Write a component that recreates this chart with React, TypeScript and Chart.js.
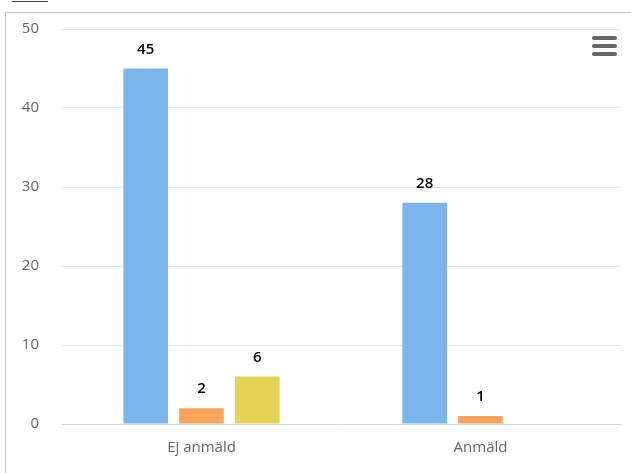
import React, { useEffect, useRef } from "react";
import { Chart, registerables } from "chart.js";

Chart.register(...registerables);

const categories = ["Ej anmäld", "Anmäld"];
const seriesA = [45, 28];
const seriesB = [2, 1];
const seriesC: (number | null)[] = [6, null];
const yTicks = [0, 10, 20, 30, 40, 50];

const FONT = "'Open Sans', 'Noto Sans', sans-serif";

const valueLabels = {
  id: "valueLabels",
  afterDatasetsDraw(chart: any) {
    const ctx = chart.ctx;
    ctx.save();
    ctx.font = `600 15px ${FONT}`;
    ctx.fillStyle = "#000000";
    ctx.textAlign = "center";
    ctx.textBaseline = "middle";
    chart.data.datasets.forEach((ds: any, i: number) => {
      const meta = chart.getDatasetMeta(i);
      meta.data.forEach((bar: any, j: number) => {
        const v = ds.data[j];
        if (v === null || v === undefined) return;
        ctx.fillText(String(v), bar.x, bar.y - 19);
      });
    });
    ctx.restore();
  },
};

export default function App() {
  const ref = useRef<HTMLCanvasElement | null>(null);
  useEffect(() => {
    if (!ref.current) return;
    const chart = new Chart(ref.current, {
      type: "bar",
      data: {
        labels: categories,
        datasets: [
          { data: seriesA, backgroundColor: "#7cb5ec" },
          { data: seriesB, backgroundColor: "#f7a35c" },
          { data: seriesC, backgroundColor: "#e4d354" },
        ],
      },
      options: {
        responsive: false,
        animation: false,
        layout: { padding: { left: 0, right: 11, top: 29, bottom: 0 } },
        plugins: { legend: { display: false }, tooltip: { enabled: false } },
        datasets: { bar: { categoryPercentage: 0.6, barPercentage: 0.8 } },
        scales: {
          x: {
            grid: { display: false },
            border: { display: true, color: "#ccd6eb", width: 1 },
            ticks: { color: "#666666", font: { family: FONT, size: 15 }, padding: 7 },
            afterFit: (s: any) => {
              s.height = 49;
            },
          },
          y: {
            min: 0,
            max: 50,
            afterBuildTicks: (s: any) => {
              s.ticks = yTicks.map((v) => ({ value: v }));
            },
            grid: {
              color: (c: any) => (c.tick && c.tick.value === 0 ? "rgba(0,0,0,0)" : "#e6e6e6"),
              drawTicks: false,
            },
            border: { display: false },
            ticks: { color: "#666666", font: { family: FONT, size: 15 }, padding: 23 },
            afterFit: (s: any) => {
              s.width = 62;
              s.paddingTop = 0;
              s.paddingBottom = 0;
            },
          },
        },
      },
      plugins: [valueLabels],
    });
    return () => chart.destroy();
  }, []);

  return (
    <div style={{ position: "absolute", left: 0, top: 0, width: 631, height: 473, background: "#fff", overflow: "hidden" }}>
      <div style={{ position: "absolute", left: 12, top: 1, width: 36, height: 1, background: "#444" }} />
      <div style={{ position: "absolute", left: 5, top: 12, right: 0, bottom: 0, borderLeft: "1px solid #c8c8c8", borderTop: "1px solid #c8c8c8" }} />
      <canvas ref={ref} width={631} height={473} style={{ position: "absolute", left: 0, top: 0, width: 631, height: 473 }} />
      {[36, 44, 52].map((t) => (
        <div key={t} style={{ position: "absolute", left: 592, top: t, width: 25, height: 4, borderRadius: 2, background: "#666" }} />
      ))}
    </div>
  );
}
